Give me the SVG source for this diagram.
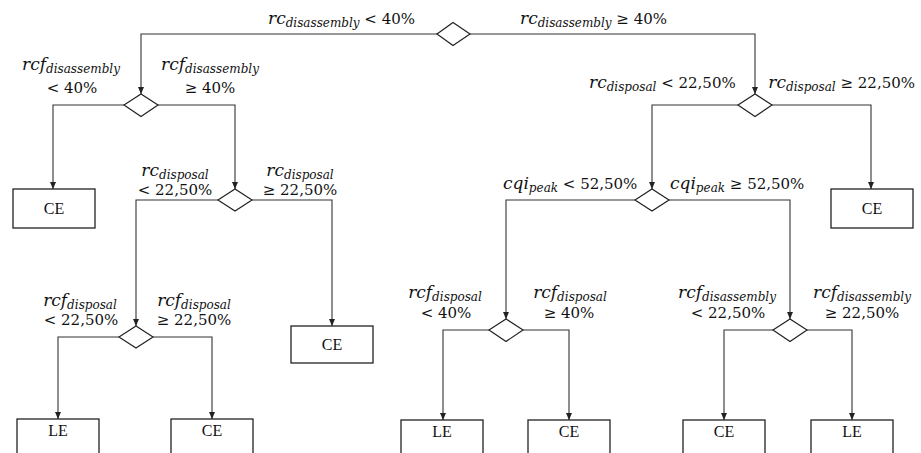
<svg xmlns="http://www.w3.org/2000/svg" width="921" height="453" viewBox="0 0 921 453">
<defs>
<marker id="arr" markerWidth="8" markerHeight="8" refX="7" refY="4" orient="auto" markerUnits="userSpaceOnUse">
<path d="M0,1 L7,4 L0,7 Z" fill="#222"/>
</marker>
<style>
.dia{fill:#fff;stroke:#222;stroke-width:1.2}
.box{fill:#fff;stroke:#222;stroke-width:1.3}
.con{fill:none;stroke:#333;stroke-width:1.1;marker-end:url(#arr)}
.bt{font-family:"Liberation Serif",serif;font-size:16px;fill:#111;text-anchor:middle}
.lb{font-family:"DejaVu Serif",serif;font-size:15px;fill:#111}
.v{font-style:italic;font-size:17px}
.s{font-style:italic;font-size:12px}
.m{text-anchor:middle}
.e{text-anchor:end}
</style>
</defs>
<rect width="921" height="453" fill="#fff"/>
<g id="connectors">
<path class="con" d="M437,34 H141 V94"/>
<path class="con" d="M470,34 H755 V94"/>
<path class="con" d="M124,105 H53 V189"/>
<path class="con" d="M158,105 H235 V189"/>
<path class="con" d="M218,200 H136 V326"/>
<path class="con" d="M252,200 H332 V326"/>
<path class="con" d="M119,337 H58 V419"/>
<path class="con" d="M153,337 H212 V419"/>
<path class="con" d="M738,105 H652 V189"/>
<path class="con" d="M772,105 H871 V189"/>
<path class="con" d="M635,200 H506 V319"/>
<path class="con" d="M669,200 H790 V319"/>
<path class="con" d="M489,330 H443 V420"/>
<path class="con" d="M523,330 H569 V420"/>
<path class="con" d="M773,330 H724 V420"/>
<path class="con" d="M807,330 H852 V420"/>
</g>
<g id="d1"><path class="dia" d="M437,34 L453,22.5 L470,34 L453,45.5 Z"/></g>
<g id="d2"><path class="dia" d="M124,105 L141,94 L158,105 L141,116.5 Z"/></g>
<g id="d3"><path class="dia" d="M218,200 L235,189 L252,200 L235,211 Z"/></g>
<g id="d4"><path class="dia" d="M119,337 L136,326 L153,337 L136,348 Z"/></g>
<g id="d5"><path class="dia" d="M738,105 L755,94 L772,105 L755,116.5 Z"/></g>
<g id="d6"><path class="dia" d="M635,200 L652,189 L669,200 L652,211 Z"/></g>
<g id="d7"><path class="dia" d="M489,330 L506,319 L523,330 L506,341.5 Z"/></g>
<g id="d8"><path class="dia" d="M773,330 L790,319 L807,330 L790,341.5 Z"/></g>
<g id="b1"><rect class="box" x="13" y="189" width="82" height="39"/><text class="bt" x="54" y="214">CE</text></g>
<g id="b2"><rect class="box" x="831" y="189" width="82" height="39"/><text class="bt" x="872" y="214">CE</text></g>
<g id="b3"><rect class="box" x="291" y="326" width="82" height="37"/><text class="bt" x="332" y="350">CE</text></g>
<g id="b4"><rect class="box" x="17" y="419" width="82" height="40"/><text class="bt" x="58" y="436">LE</text></g>
<g id="b5"><rect class="box" x="171" y="419" width="82" height="40"/><text class="bt" x="212" y="436">CE</text></g>
<g id="b6"><rect class="box" x="401" y="420" width="82" height="40"/><text class="bt" x="442" y="437">LE</text></g>
<g id="b7"><rect class="box" x="528" y="420" width="82" height="40"/><text class="bt" x="569" y="437">CE</text></g>
<g id="b8"><rect class="box" x="683" y="420" width="82" height="40"/><text class="bt" x="724" y="437">CE</text></g>
<g id="b9"><rect class="box" x="811" y="420" width="82" height="40"/><text class="bt" x="852" y="437">LE</text></g>
<g id="labels">
<text class="lb" x="268" y="24"><tspan class="v">rc</tspan><tspan class="s" dy="3">disassembly</tspan><tspan dy="-3"> &lt; 40%</tspan></text>
<text class="lb" x="520" y="24"><tspan class="v">rc</tspan><tspan class="s" dy="3">disassembly</tspan><tspan dy="-3"> ≥ 40%</tspan></text>
<text class="lb m" x="71" y="70"><tspan class="v">rcf</tspan><tspan class="s" dy="3">disassembly</tspan></text>
<text class="lb m" x="72" y="93">&lt; 40%</text>
<text class="lb m" x="210" y="70"><tspan class="v">rcf</tspan><tspan class="s" dy="3">disassembly</tspan></text>
<text class="lb m" x="210" y="93">≥ 40%</text>
<text class="lb m" x="175" y="176"><tspan class="v">rc</tspan><tspan class="s" dy="3">disposal</tspan></text>
<text class="lb m" x="175" y="195">&lt; 22,50%</text>
<text class="lb m" x="300" y="176"><tspan class="v">rc</tspan><tspan class="s" dy="3">disposal</tspan></text>
<text class="lb m" x="300" y="195">≥ 22,50%</text>
<text class="lb m" x="80" y="306"><tspan class="v">rcf</tspan><tspan class="s" dy="3">disposal</tspan></text>
<text class="lb m" x="81" y="325">&lt; 22,50%</text>
<text class="lb m" x="194" y="306"><tspan class="v">rcf</tspan><tspan class="s" dy="3">disposal</tspan></text>
<text class="lb m" x="194" y="325">≥ 22,50%</text>
<text class="lb" x="589" y="88"><tspan class="v">rc</tspan><tspan class="s" dy="3">disposal</tspan><tspan dy="-3"> &lt; 22,50%</tspan></text>
<text class="lb e" x="915" y="88"><tspan class="v">rc</tspan><tspan class="s" dy="3">disposal</tspan><tspan dy="-3"> ≥ 22,50%</tspan></text>
<text class="lb" x="503" y="189"><tspan class="v">cqi</tspan><tspan class="s" dy="3">peak</tspan><tspan dy="-3"> &lt; 52,50%</tspan></text>
<text class="lb" x="670" y="189"><tspan class="v">cqi</tspan><tspan class="s" dy="3">peak</tspan><tspan dy="-3"> ≥ 52,50%</tspan></text>
<text class="lb m" x="445" y="298"><tspan class="v">rcf</tspan><tspan class="s" dy="3">disposal</tspan></text>
<text class="lb m" x="446" y="318">&lt; 40%</text>
<text class="lb m" x="570" y="298"><tspan class="v">rcf</tspan><tspan class="s" dy="3">disposal</tspan></text>
<text class="lb m" x="569" y="318">≥ 40%</text>
<text class="lb m" x="727" y="298"><tspan class="v">rcf</tspan><tspan class="s" dy="3">disassembly</tspan></text>
<text class="lb m" x="728" y="318">&lt; 22,50%</text>
<text class="lb m" x="862" y="298"><tspan class="v">rcf</tspan><tspan class="s" dy="3">disassembly</tspan></text>
<text class="lb m" x="862" y="318">≥ 22,50%</text>
</g>
</svg>
